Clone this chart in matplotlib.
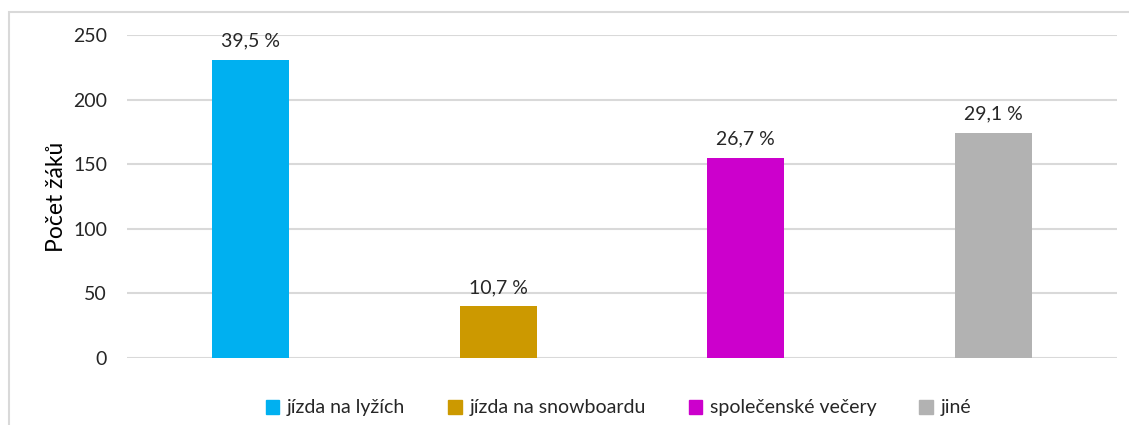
import matplotlib
matplotlib.use("Agg")
import matplotlib.pyplot as plt
from matplotlib.patches import Rectangle

categories = ["jízda na lyžích", "jízda na snowboardu", "společenské večery", "jiné"]
values = [231, 40, 155, 174]
percent_labels = ["39,5 %", "10,7 %", "26,7 %", "29,1 %"]
colors = ["#00B0F0", "#CC9900", "#CC00CC", "#B2B2B2"]
yticks = [0, 50, 100, 150, 200, 250]

plt.rcParams['font.family'] = ['Lato', 'DejaVu Sans']

fig = plt.figure(figsize=(11.29, 4.25), dpi=100)
fig.patch.set_facecolor("white")
# outer chart border
fig.add_artist(Rectangle((9/1129, -0.1), 1.2, 1 - 12/425 + 0.1, transform=fig.transFigure,
                         fill=False, edgecolor="#D9D9D9", linewidth=1.5))

ax = fig.add_axes([127/1129, 1 - 358/425, 990/1129, 323/425])
x = list(range(len(categories)))
bars = ax.bar(x, values, width=0.31, color=colors, label=categories, zorder=3)
for b, lab in zip(bars, percent_labels):
    ax.annotate(lab, (b.get_x() + b.get_width() / 2, b.get_height()),
                xytext=(0, 7.5), textcoords="offset points", ha="center", va="bottom",
                fontsize=14, color="#262626")

ax.set_xlim(-0.5, 3.5)
ax.set_ylim(0, 250)
ax.set_yticks(yticks)
ax.set_yticklabels([str(t) for t in yticks], fontsize=14, color="#262626")
ax.set_xticks([])
ax.tick_params(axis="y", length=0, pad=14.4)
ax.grid(axis="y", color="#D9D9D9", linewidth=1.5, zorder=0)
for s in ax.spines.values():
    s.set_visible(False)
ax.set_ylabel("Počet žáků", fontsize=16.5, color="#000000", labelpad=4)

handles = [Rectangle((0, 0), 1, 1, color=c) for c in colors]
fig.legend(handles, categories, loc="center", bbox_to_anchor=(618.5/1129, 1 - 408/425),
           ncol=4, frameon=False, fontsize=14, handlelength=0.7, handleheight=0.7,
           handletextpad=0.4, columnspacing=2.2, labelcolor="#262626")

fig.savefig("out.png", dpi=100)
